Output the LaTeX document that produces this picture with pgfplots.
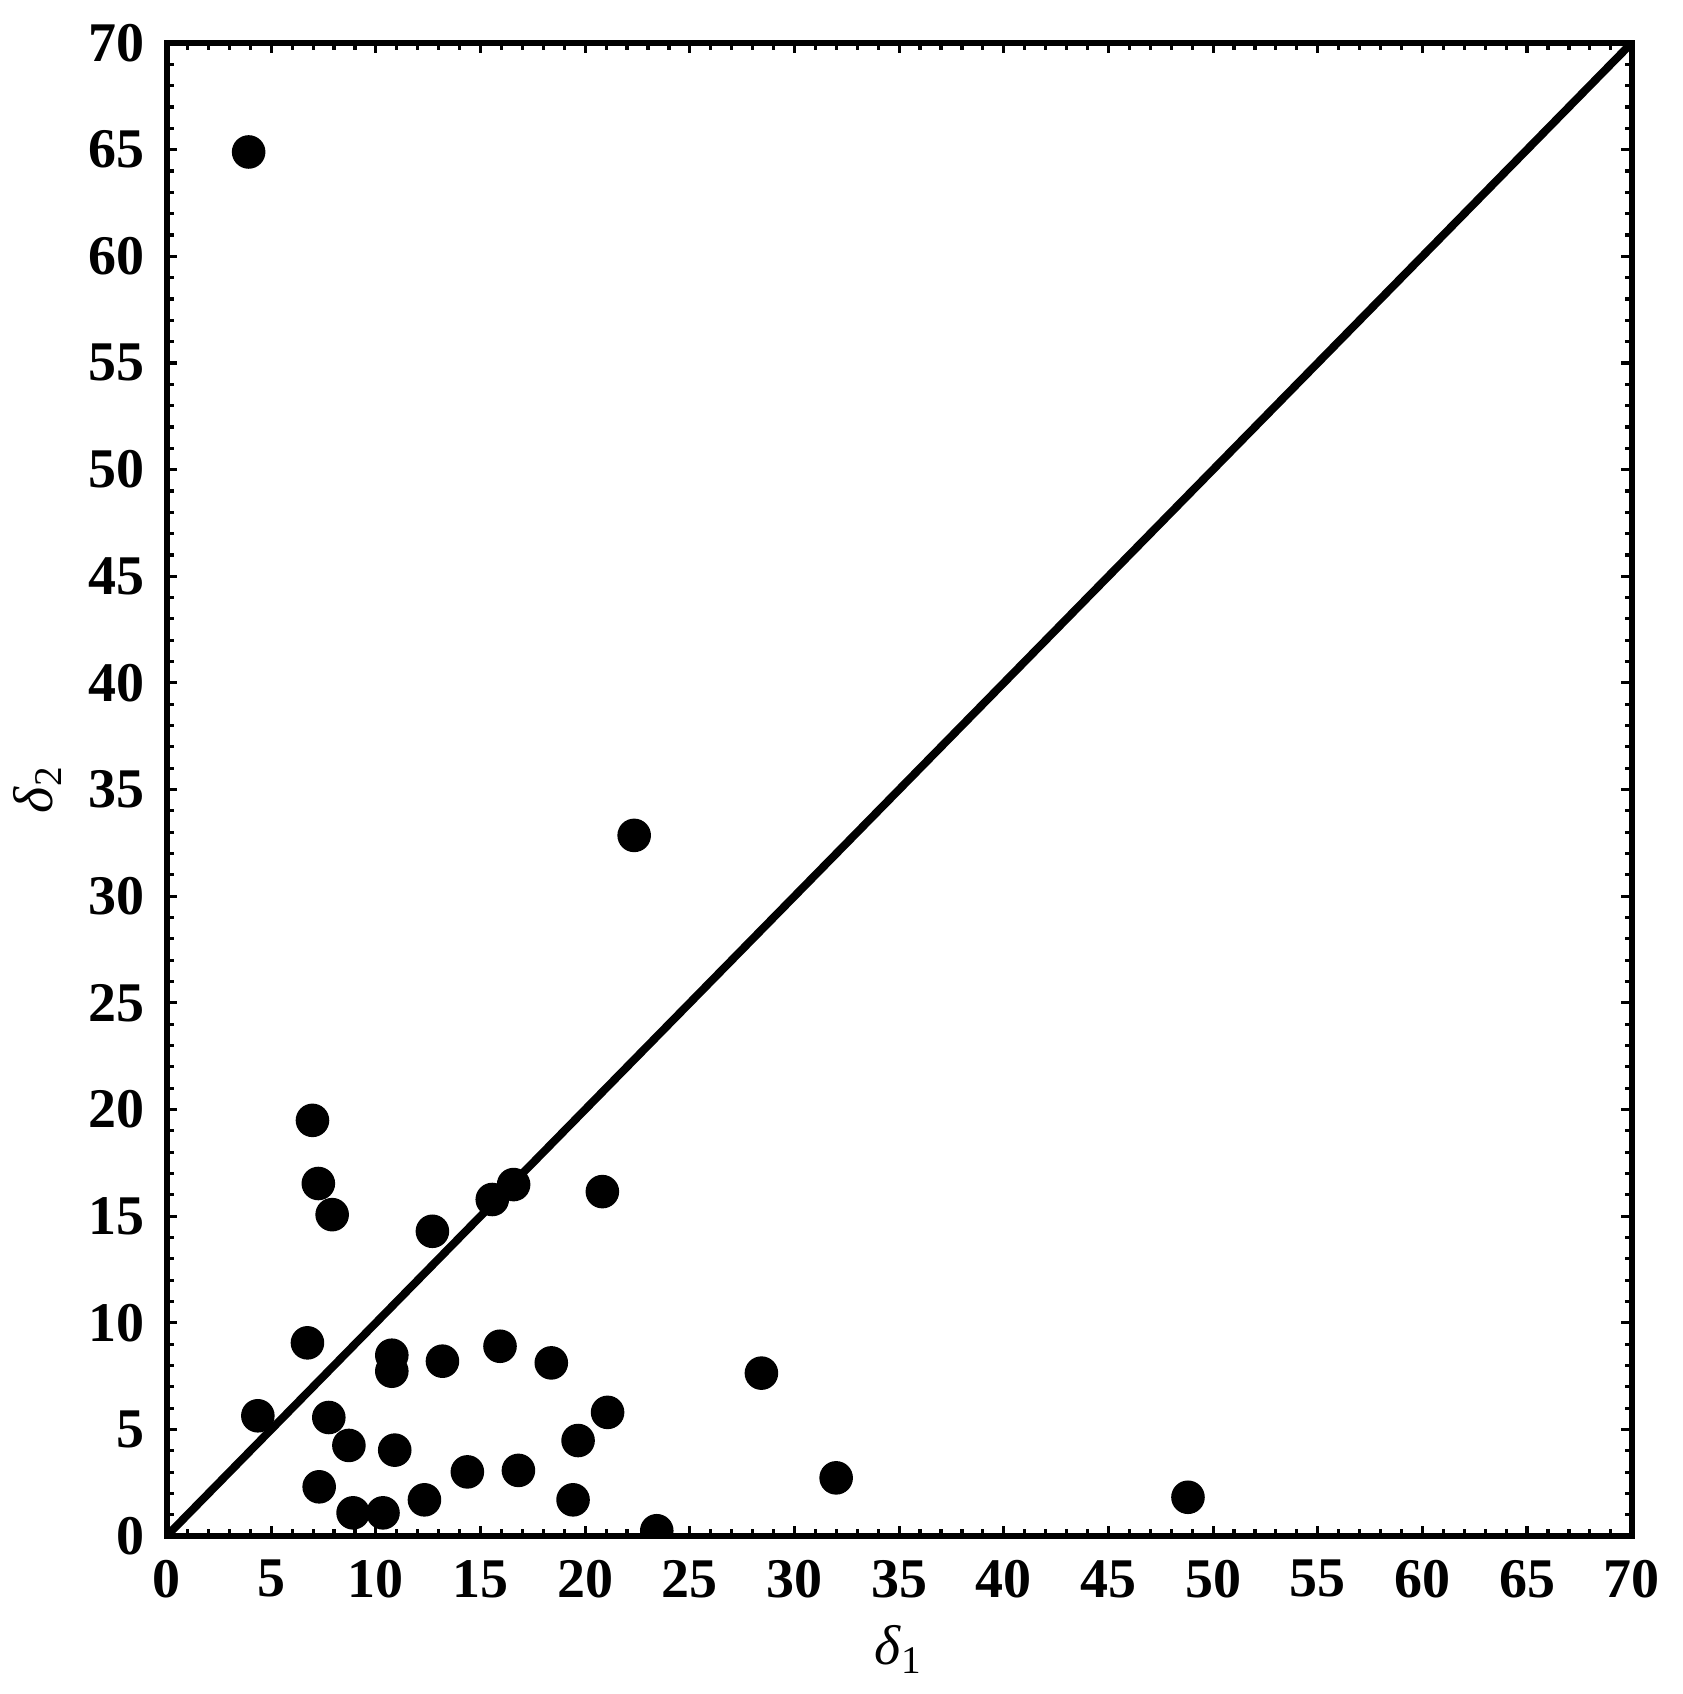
\documentclass[border=0pt]{standalone}
\usepackage{fontspec}
\setmainfont{Liberation Serif}
\usepackage{pgfplots}
\pgfplotsset{compat=1.18}

\begin{document}
\begin{tikzpicture}
  \begin{axis}[
      name=ax,
      scale only axis,
      width=366.5pt, height=373.5pt,
      xmin=0, xmax=70, ymin=0, ymax=70,
      xtick distance=5, ytick distance=5,
      minor tick num=4,
      tick align=inside,
      major tick length=2.6pt,
      minor tick length=1.8pt,
      every tick/.style={line width=0.8pt, black},
      axis line style={line width=1.5pt},
      /pgf/number format/assume math mode=true,
      tick label style={font=\fontsize{14}{16}\selectfont\bfseries},
      xticklabel style={yshift=-2.5pt},
      yticklabel style={xshift=-2pt},
      xlabel={\textit{δ}\textsubscript{1}},
      ylabel={\textit{δ}\textsubscript{2}},
      label style={font=\fontsize{14}{16}\selectfont},
      clip marker paths=true,
    ]
    \addplot[black, line width=2pt] coordinates {(0,0) (70,70)};
    \addplot[only marks, mark=*, mark size=4pt, black] coordinates {
      (3.92,64.89) (4.36,5.64) (6.97,19.49) (7.25,16.53) (7.91,15.07)
      (6.73,9.06) (7.75,5.56) (8.71,4.25) (7.29,2.31) (8.91,1.09)
      (10.34,1.09) (10.76,8.48) (10.76,7.73) (10.90,4.03) (12.32,1.70)
      (12.70,14.29) (13.18,8.20) (14.37,3.01) (15.56,15.78) (16.58,16.48)
      (15.93,8.90) (16.81,3.08) (18.38,8.12) (19.42,1.70) (19.66,4.48)
      (20.82,16.15) (21.07,5.80) (22.34,32.85) (23.42,0.25) (28.42,7.64)
      (31.99,2.73) (48.80,1.82)
    };
  \end{axis}
  % page margins as in the original
  \path (ax.north east) ++(12.75pt,10.75pt);
  \path (ax.south west) ++(0,-39.5pt);
\end{tikzpicture}
\end{document}
